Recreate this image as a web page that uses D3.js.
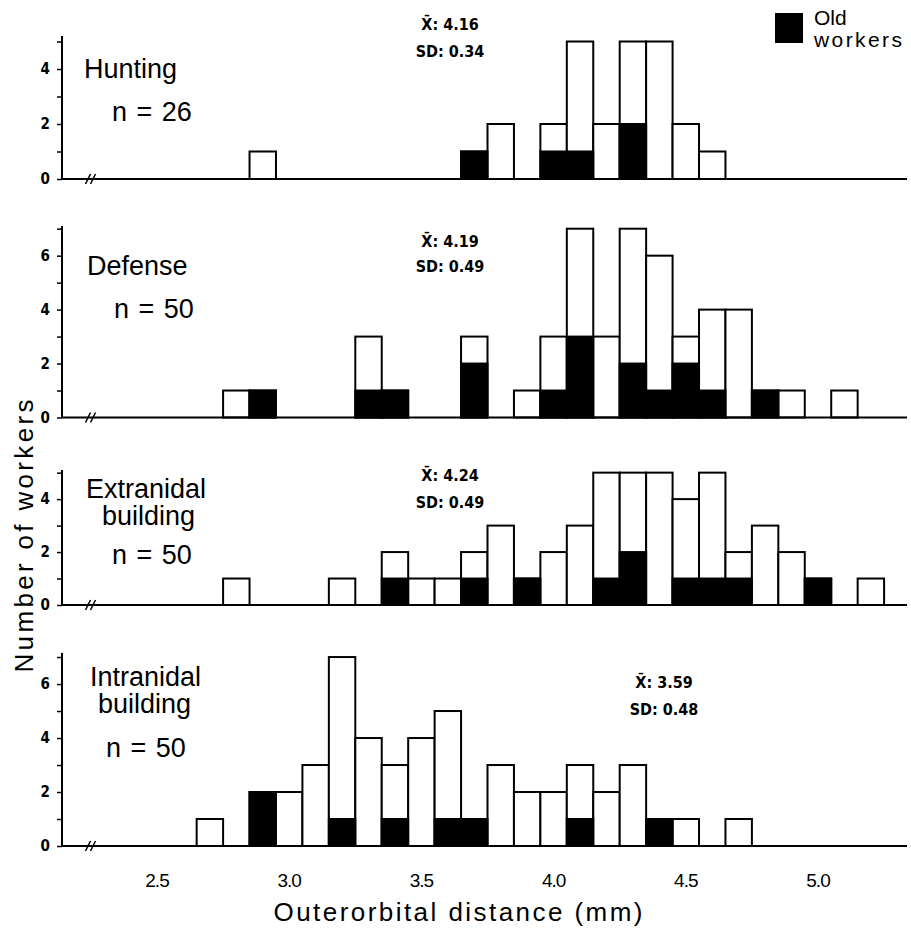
<!DOCTYPE html>
<html>
<head>
<meta charset="utf-8">
<script src="https://cdn.jsdelivr.net/npm/d3@7"></script>
<style>
body { margin: 0; background: #fff; }
svg { display: block; }
</style>
</head>
<body>
<script>
// bin centres (mm), total workers per bin, old workers per bin
const huntingMm    = [2.9, 3.7, 3.8, 4.0, 4.1, 4.2, 4.3, 4.4, 4.5, 4.6];
const huntingTotal = [1, 1, 2, 2, 5, 2, 5, 5, 2, 1];
const huntingOld   = [0, 1, 0, 1, 1, 0, 2, 0, 0, 0];

const defenseMm    = [2.8, 2.9, 3.3, 3.4, 3.7, 3.9, 4.0, 4.1, 4.2, 4.3, 4.4, 4.5, 4.6, 4.7, 4.8, 4.9, 5.1];
const defenseTotal = [1, 1, 3, 1, 3, 1, 3, 7, 3, 7, 6, 3, 4, 4, 1, 1, 1];
const defenseOld   = [0, 1, 1, 1, 2, 0, 1, 3, 0, 2, 1, 2, 1, 0, 1, 0, 0];

const extraMm    = [2.8, 3.2, 3.4, 3.5, 3.6, 3.7, 3.8, 3.9, 4.0, 4.1, 4.2, 4.3, 4.4, 4.5, 4.6, 4.7, 4.8, 4.9, 5.0, 5.2];
const extraTotal = [1, 1, 2, 1, 1, 2, 3, 1, 2, 3, 5, 5, 5, 4, 5, 2, 3, 2, 1, 1];
const extraOld   = [0, 0, 1, 0, 0, 1, 0, 1, 0, 0, 1, 2, 0, 1, 1, 1, 0, 0, 1, 0];

const intraMm    = [2.7, 2.9, 3.0, 3.1, 3.2, 3.3, 3.4, 3.5, 3.6, 3.7, 3.8, 3.9, 4.0, 4.1, 4.2, 4.3, 4.4, 4.5, 4.7];
const intraTotal = [1, 2, 2, 3, 7, 4, 3, 4, 5, 1, 3, 2, 2, 3, 2, 3, 1, 1, 1];
const intraOld   = [0, 2, 0, 0, 1, 0, 1, 0, 1, 1, 0, 0, 0, 1, 0, 0, 1, 0, 0];

const panelTitles = [["Hunting"], ["Defense"], ["Extranidal", "building"], ["Intranidal", "building"]];
const panelN = ["n = 26", "n = 50", "n = 50", "n = 50"];
const panelMean = ["4.16", "4.19", "4.24", "3.59"];
const panelSD = ["0.34", "0.49", "0.49", "0.48"];
const panelYMax = [5.2, 7.1, 5.1, 7.15];
const panelYTicks = [[0, 1, 2, 3, 4, 5], [0, 1, 2, 3, 4, 5, 6, 7], [0, 1, 2, 3, 4, 5], [0, 1, 2, 3, 4, 5, 6, 7]];
const xTicks = [2.5, 3.0, 3.5, 4.0, 4.5, 5.0];

const panelData = [
    [huntingMm, huntingTotal, huntingOld],
    [defenseMm, defenseTotal, defenseOld],
    [extraMm, extraTotal, extraOld],
    [intraMm, intraTotal, intraOld]
];

const width = 911;
const height = 932;
const labelFont = "'Liberation Sans', Arial, sans-serif";
const numFont = "'Liberation Sans Narrow', 'DejaVu Sans Condensed', sans-serif";

// layout of each panel: baseline, top of axis, title / stats positions
const layout = [
    {base: 179, top: 36, title: [[84, 78]], n: [112, 121], stat: [450, 30, 57]},
    {base: 417.5, top: 226, title: [[87, 275]], n: [114, 318], stat: [450, 247, 272]},
    {base: 605, top: 470, title: [[86, 498], [102, 525]], n: [112, 564], stat: [450, 481, 508]},
    {base: 846, top: 653, title: [[90, 686], [98, 713]], n: [106, 757], stat: [664, 688, 715]}
];

const svg = d3.select("body")
    .append("svg")
    .attr("width", width)
    .attr("height", height);

const x = d3.scaleLinear()
    .domain([2.5, 5.0])
    .range([157, 818]);

const axisLeftX = 62;
const axisRightX = 907;
const binHalf = 0.05;

panelData.forEach((p, i) => {
    const L = layout[i];
    const y = d3.scaleLinear()
        .domain([0, panelYMax[i]])
        .range([L.base, L.top]);

    const g = svg.append("g");

    const rows = p[0].map((mm, k) => ({mm: mm, total: p[1][k], old: p[2][k]}));

    // total bars (white)
    g.selectAll("rect.total")
        .data(rows)
        .join("rect")
        .attr("class", "total")
        .attr("x", d => x(d.mm - binHalf))
        .attr("width", d => x(d.mm + binHalf) - x(d.mm - binHalf))
        .attr("y", d => y(d.total))
        .attr("height", d => y(0) - y(d.total))
        .attr("fill", "#fff")
        .attr("stroke", "#000")
        .attr("stroke-width", 2);

    // old workers (black)
    g.selectAll("rect.old")
        .data(rows.filter(d => d.old > 0))
        .join("rect")
        .attr("class", "old")
        .attr("x", d => x(d.mm - binHalf))
        .attr("width", d => x(d.mm + binHalf) - x(d.mm - binHalf))
        .attr("y", d => y(d.old))
        .attr("height", d => y(0) - y(d.old))
        .attr("fill", "#000")
        .attr("stroke", "#000")
        .attr("stroke-width", 2);

    // y axis
    const yAxis = d3.axisLeft(y)
        .tickValues(panelYTicks[i])
        .tickSize(5)
        .tickPadding(7)
        .tickFormat(d => d % 2 ? "" : d);

    const ya = g.append("g")
        .attr("transform", `translate(${axisLeftX},0)`)
        .call(yAxis);
    ya.select(".domain")
        .attr("d", `M0,${L.base}V${L.top}`)
        .attr("stroke-width", 2);
    ya.selectAll(".tick line").attr("stroke-width", 1.5);
    ya.selectAll(".tick text")
        .attr("font-family", numFont)
        .attr("font-weight", "bold")
        .attr("font-size", 15)
        .attr("fill", "#000");

    // x baseline with break mark
    g.append("line")
        .attr("x1", axisLeftX).attr("x2", axisRightX)
        .attr("y1", L.base).attr("y2", L.base)
        .attr("stroke", "#000")
        .attr("stroke-width", 2);
    [88, 93].forEach(bx => {
        g.append("line")
            .attr("x1", bx - 2.5).attr("y1", L.base + 5)
            .attr("x2", bx + 2.5).attr("y2", L.base - 5)
            .attr("stroke", "#000")
            .attr("stroke-width", 1.5);
    });

    // panel title and n
    panelTitles[i].forEach((t, k) => {
        g.append("text")
            .attr("x", L.title[k][0])
            .attr("y", L.title[k][1])
            .attr("font-family", labelFont)
            .attr("font-size", 27)
            .text(t);
    });
    g.append("text")
        .attr("x", L.n[0])
        .attr("y", L.n[1])
        .attr("font-family", labelFont)
        .attr("font-size", 27)
        .attr("word-spacing", 2)
        .text(panelN[i]);

    // mean and SD
    g.append("text")
        .attr("x", L.stat[0])
        .attr("y", L.stat[1])
        .attr("text-anchor", "middle")
        .attr("font-family", numFont)
        .attr("font-weight", "bold")
        .attr("font-size", 16)
        .text("X\u0304: " + panelMean[i]);
    g.append("text")
        .attr("x", L.stat[0])
        .attr("y", L.stat[2])
        .attr("text-anchor", "middle")
        .attr("font-family", numFont)
        .attr("font-weight", "bold")
        .attr("font-size", 16)
        .text("SD: " + panelSD[i]);
});

// x tick labels under the bottom panel
svg.append("g")
    .selectAll("text")
    .data(xTicks)
    .join("text")
    .attr("x", d => x(d))
    .attr("y", 887)
    .attr("text-anchor", "middle")
    .attr("font-family", labelFont)
    .attr("font-size", 19)
    .attr("letter-spacing", -1)
    .text(d => d.toFixed(1));

// axis titles
svg.append("text")
    .attr("x", 458)
    .attr("y", 921)
    .attr("text-anchor", "middle")
    .attr("font-family", labelFont)
    .attr("font-size", 26)
    .attr("textLength", 369)
    .text("Outerorbital distance (mm)");

svg.append("text")
    .attr("transform", "translate(33,536) rotate(-90)")
    .attr("text-anchor", "middle")
    .attr("font-family", labelFont)
    .attr("font-size", 26)
    .attr("textLength", 273)
    .text("Number of workers");

// legend
svg.append("rect")
    .attr("x", 775).attr("y", 13)
    .attr("width", 28).attr("height", 30)
    .attr("fill", "#000");
svg.append("text")
    .attr("x", 814).attr("y", 25)
    .attr("font-family", labelFont)
    .attr("font-size", 21)
    .text("Old");
svg.append("text")
    .attr("x", 814).attr("y", 47)
    .attr("font-family", labelFont)
    .attr("font-size", 21)
    .attr("textLength", 88)
    .text("workers");
</script>
</body>
</html>
